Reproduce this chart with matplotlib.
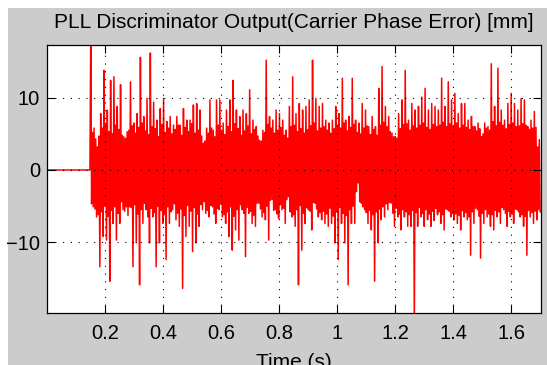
import matplotlib
matplotlib.use("Agg")
import matplotlib.pyplot as plt
import numpy as np
from matplotlib.patches import Rectangle

# PLL discriminator output after lock, mm.
# Each step is: spike high, small dip, small rise, spike low.
t_lock = 0.148
t_end = 1.70

highs_mm = [
    19.0, 5.8, 3.2, 7.8, 13.8, 8.3, 12.4, 12.9, 8.8, 11.8, 4.6, 5.3, 12.2, 6.5, 7.8,
    15.6, 7.4, 9.9, 16.2, 9.4, 6.9, 8.5, 9.9, 6.7, 7.4, 6.2, 7.4, 6.2, 8.5, 6.9,
    6.9, 9.0, 9.2, 8.3, 3.7,
    5.8, 9.7, 5.5, 9.7, 9.7, 6.5, 8.3, 9.7, 12.4, 8.3, 7.4, 8.3, 7.8, 11.1, 6.9,
    6.0, 4.1, 5.5, 15.2, 7.4, 6.9, 8.3, 7.8, 6.9, 5.5, 8.8, 12.9, 7.8, 9.2, 8.3,
    8.8, 9.7, 15.2, 9.9, 8.8,
    9.2, 6.9, 6.5, 6.9, 8.8, 7.8, 12.7, 6.9, 7.4, 12.7, 6.9, 6.5, 9.2, 8.3, 6.0,
    7.4, 6.0, 11.3, 14.3, 8.8, 7.4, 5.1, 4.6, 7.8, 9.7, 13.8, 6.9, 9.2, 8.3, 8.8,
    10.1, 11.3, 8.3, 9.2, 8.8,
    8.3, 12.7, 8.8, 12.2, 9.7, 10.6, 7.8, 9.2, 9.2, 6.9, 7.4, 6.0, 6.5, 4.6, 6.5,
    6.0, 14.7, 8.8, 14.1, 8.3, 6.9, 9.2, 10.6, 9.2, 8.3, 9.9, 9.7, 6.0, 6.9, 8.1,
    3.2,
]
dips_mm = [
    -4.7, -5.4, -6.2, -5.8, -5.0, -6.4, -5.6, -5.1, -6.0, -4.4, -5.7, -6.3, -5.2,
    -4.8, -6.1, -5.5, -4.6, -6.5, -5.3, -5.9, -5.0, -5.6, -6.2, -5.1, -5.8, -4.7,
    -6.0, -5.4, -6.3, -4.9, -5.7, -5.2, -6.1, -4.8, -4.4,
    -5.6, -4.9, -6.1, -5.3, -4.7, -6.2, -5.8, -5.1, -6.4, -5.5, -4.8, -6.0, -5.2,
    -5.7, -6.3, -4.6, -5.4, -5.9, -5.0, -4.2, -5.6, -6.1, -4.8, -5.3, -4.1, -5.8,
    -6.2, -5.5, -4.9, -6.0, -5.2, -5.7, -4.5, -5.4, -5.9,
    -5.7, -6.1, -5.3, -6.4, -5.8, -5.2, -6.0, -6.3, -5.5, -5.0, -3.0, -4.4, -5.1,
    -5.9, -5.6, -6.2, -5.8, -5.4, -5.1, -4.7, -4.5, -6.0, -5.3, -6.1, -5.5, -5.8,
    -6.2, -5.6, -5.9, -5.2, -6.0, -5.5, -6.1, -5.7, -5.3,
    -5.8, -6.2, -5.4, -5.7, -6.0, -6.1, -6.3, -5.6, -5.9, -6.5, -5.8, -5.3, -6.4,
    -6.0, -5.5, -6.1, -6.2, -5.6, -5.8, -5.2, -6.0, -5.7, -6.1, -5.4, -5.8, -6.2,
    -6.4, -5.6, -5.9, -5.7, -5.5,
]
rises_mm = [
    5.2, 4.3, 4.7, 5.8, 6.4, 5.3, 5.0, 6.2, 5.6, 4.8, 4.4, 5.5, 6.1, 5.1, 5.9, 6.5,
    5.4, 4.9, 6.0, 5.7, 4.6, 6.3, 5.2, 5.8, 5.0, 5.6, 6.2, 4.8, 5.9, 5.3, 6.4, 5.1,
    5.5, 4.7, 4.0,
    5.1, 5.8, 4.6, 6.2, 5.5, 4.9, 6.0, 5.3, 6.4, 5.7, 4.8, 5.4, 6.1, 5.0, 5.6, 4.7,
    4.0, 5.2, 6.3, 5.8, 5.1, 5.5, 5.9, 4.8, 4.4, 6.0, 6.2, 5.3, 5.7, 5.1, 5.6, 6.1,
    6.5, 5.4, 5.8,
    6.0, 5.5, 5.1, 5.7, 6.2, 5.8, 6.5, 5.4, 5.9, 6.3, 5.2, 5.0, 5.8, 6.1, 4.9, 5.6,
    4.8, 6.2, 6.6, 6.0, 5.3, 4.6, 4.4, 5.7, 6.3, 6.4, 5.5, 6.1, 5.8, 6.2, 6.5, 5.9,
    5.6, 6.3, 6.0,
    6.2, 6.6, 6.0, 6.4, 6.1, 6.5, 5.8, 6.2, 5.9, 5.6, 6.0, 5.4, 5.7, 5.0, 5.8, 5.5,
    6.7, 6.1, 6.6, 6.2, 5.7, 6.3, 6.5, 6.0, 6.1, 6.4, 6.2, 5.6, 5.8, 5.9, 4.2,
]
lows_mm = [
    -5.1, -6.5, -13.4, -9.2, -9.7, -15.4, -7.4, -9.7, -7.4, -5.5, -5.1, -5.1, -13.4,
    -10.1, -15.9, -7.4, -5.5, -10.1, -6.5, -13.4, -10.1, -7.4, -12.4, -7.4, -5.5,
    -6.9, -7.8, -16.4, -9.2, -7.8, -11.3, -10.1, -7.8, -5.5, -6.0,
    -6.5, -5.1, -7.4, -5.5, -6.5, -7.4, -9.2, -11.1, -8.3, -9.7, -5.5, -12.0, -6.0,
    -7.4, -7.8, -4.6, -6.5, -6.9, -9.7, -4.1, -5.5, -6.7, -5.5, -7.4, -3.7, -6.5,
    -7.8, -15.9, -11.1, -7.4, -5.5, -8.3, -4.6, -6.5, -6.9,
    -7.4, -7.8, -7.4, -10.1, -12.4, -7.4, -10.1, -15.9, -7.4, -7.4, -1.8, -4.6,
    -5.5, -7.4, -8.3, -15.4, -10.1, -6.9, -6.5, -5.5, -4.6, -7.8, -6.5, -8.3, -6.5,
    -7.8, -7.8, -22.0, -7.8, -6.5, -7.8, -6.9, -7.8, -7.0, -6.2,
    -7.4, -8.3, -5.5, -6.5, -6.9, -7.4, -8.3, -6.5, -6.9, -11.8, -7.4, -5.5, -12.2,
    -7.4, -6.5, -7.8, -8.3, -6.5, -7.4, -5.5, -7.8, -6.5, -7.4, -5.5, -6.5, -7.8,
    -11.8, -6.5, -7.4, -6.9, -5.8,
]

x_ticks = [0.2, 0.4, 0.6, 0.8, 1.0, 1.2, 1.4, 1.6]
x_labels = ["0.2", "0.4", "0.6", "0.8", "1", "1.2", "1.4", "1.6"]
y_ticks = [-10, 0, 10]

# samples are evenly spaced after lock; the output sits at zero before it
err = np.column_stack([highs_mm, dips_mm, rises_mm, lows_mm]).ravel()
t = np.linspace(t_lock, t_end, len(err) + 1)[1:]
t = np.concatenate([[0.0, t_lock], t])
err = np.concatenate([[0.0, 0.0], err])

plt.rcParams["font.family"] = ["Liberation Sans", "DejaVu Sans"]

fig = plt.figure(figsize=(5.47, 3.65), dpi=100, facecolor="white")
fig.patches.append(Rectangle((8 / 547, 0), 1, 1 - 8 / 365, transform=fig.transFigure,
                             facecolor="#cccccc", edgecolor="none", zorder=-1))

ax = fig.add_axes([47 / 547, 52 / 365, 494 / 547, 268 / 365])
ax.set_facecolor("white")
ax.plot(t, err, color="red", linewidth=1.1)

ax.set_xlim(0, 1.703)
ax.set_ylim(-19.8, 17.3)
ax.set_xticks(x_ticks, x_labels)
ax.set_yticks(y_ticks)

ax.set_axisbelow(False)
ax.grid(True, color="black", linewidth=0.8, linestyle=(0, (1, 6)))

ax.tick_params(direction="in", length=5.5, width=0.8, top=True, right=True,
               labelsize=14.5, colors="black")
ax.tick_params(axis="x", pad=8)
ax.tick_params(axis="y", pad=5)
for s in ax.spines.values():
    s.set_linewidth(0.9)
    s.set_color("black")

ax.set_title("PLL Discriminator Output(Carrier Phase Error) [mm]", fontsize=15, pad=12)
ax.set_xlabel("Time (s)", fontsize=15, labelpad=7)

fig.savefig("out.png", dpi=100, facecolor=fig.get_facecolor())
